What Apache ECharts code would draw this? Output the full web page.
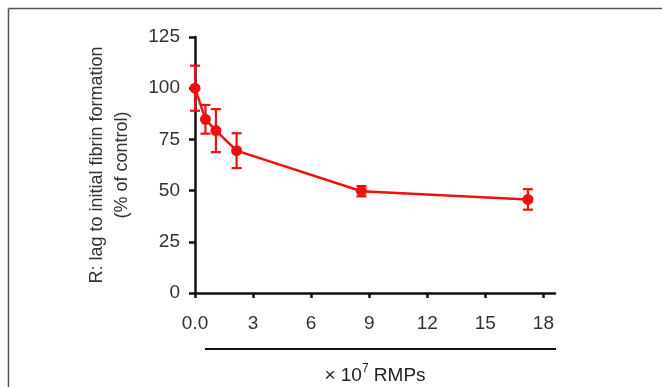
<!DOCTYPE html>
<html>
<head>
<meta charset="utf-8">
<script src="https://cdn.jsdelivr.net/npm/echarts@6/dist/echarts.min.js"></script>
<style>html,body{margin:0;padding:0;background:#fff}#c{width:662px;height:387px}</style>
</head>
<body>
<div id="c"></div>
<script>
var xValues = [0, 0.54, 1.08, 2.15, 8.6, 17.2];
var yValues = [100, 84.8, 79.3, 69.5, 49.7, 45.7];
var yErrors = [11, 7, 10.5, 8.5, 2.5, 5];
var xTicks = [0, 3, 6, 9, 12, 15, 18];
var yTicks = [0, 25, 50, 75, 100, 125];

var RED = '#f01010';
var lineData = xValues.map(function (x, i) { return [x, yValues[i]]; });
var errData = xValues.map(function (x, i) { return [x, yValues[i] - yErrors[i], yValues[i] + yErrors[i]]; });

var chart = echarts.init(document.getElementById('c'), null, {renderer: 'canvas'});
chart.setOption({
  animation: false,
  backgroundColor: '#fff',
  grid: {left: 195, right: 107, top: 37, bottom: 94, containLabel: false, outerBoundsMode: 'none'},
  xAxis: {
    type: 'value', min: 0, max: 18.6, interval: 3,
    axisLine: {show: true, lineStyle: {color: '#111', width: 2.5}},
    axisTick: {show: true, length: 5, customValues: xTicks, lineStyle: {color: '#111', width: 2.5}},
    splitLine: {show: false},
    axisLabel: {
      margin: 21, fontSize: 19, color: '#333', fontFamily: 'Liberation Sans, Arial',
      customValues: xTicks,
      formatter: function (v) { return v === 0 ? '0.0' : String(v); }
    },
    name: '{a|\u00d7 10}{b|7}{a| RMPs}',
    nameLocation: 'middle', nameGap: 70,
    nameTextStyle: {
      rich: {
        a: {fontSize: 19, color: '#222', fontFamily: 'Liberation Sans, Arial', verticalAlign: 'bottom', lineHeight: 22},
        b: {fontSize: 12, color: '#222', fontFamily: 'Liberation Sans, Arial', verticalAlign: 'top', lineHeight: 22, padding: [0, 0, 8, 0]}
      }
    }
  },
  yAxis: {
    type: 'value', min: 0, max: 125, interval: 25,
    axisLine: {show: true, lineStyle: {color: '#111', width: 2.5}},
    axisTick: {show: true, length: 6, customValues: yTicks, lineStyle: {color: '#111', width: 2.5}},
    splitLine: {show: false},
    axisLabel: {margin: 15, fontSize: 19, color: '#333', fontFamily: 'Liberation Sans, Arial', customValues: yTicks},
    name: 'R: lag to initial fibrin formation\n(% of control)',
    nameLocation: 'middle', nameGap: 60, nameRotate: 90,
    nameTextStyle: {fontSize: 18, color: '#333', fontFamily: 'Liberation Sans, Arial', lineHeight: 25, align: 'center'}
  },
  series: [
    {
      type: 'line', data: lineData, symbol: 'circle', symbolSize: 11,
      lineStyle: {color: RED, width: 2.5}, itemStyle: {color: RED}, z: 3
    },
    {
      type: 'custom', data: errData, z: 4,
      renderItem: function (params, api) {
        var x = api.value(0);
        var lo = api.coord([x, api.value(1)]);
        var hi = api.coord([x, api.value(2)]);
        var w = 5;
        var st = {stroke: RED, lineWidth: 2.2};
        return {
          type: 'group',
          children: [
            {type: 'line', shape: {x1: lo[0], y1: lo[1], x2: hi[0], y2: hi[1]}, style: st},
            {type: 'line', shape: {x1: lo[0] - w, y1: lo[1], x2: lo[0] + w, y2: lo[1]}, style: st},
            {type: 'line', shape: {x1: hi[0] - w, y1: hi[1], x2: hi[0] + w, y2: hi[1]}, style: st}
          ]
        };
      }
    }
  ],
  graphic: [
    {type: 'line', shape: {x1: 8.5, y1: 8.5, x2: 662, y2: 8.5}, style: {stroke: '#555', lineWidth: 1.5}},
    {type: 'line', shape: {x1: 8.5, y1: 8.5, x2: 8.5, y2: 387}, style: {stroke: '#555', lineWidth: 1.5}},
    {type: 'line', shape: {x1: 205, y1: 349, x2: 556, y2: 349}, style: {stroke: '#111', lineWidth: 2}}
  ]
});
</script>
</body>
</html>
